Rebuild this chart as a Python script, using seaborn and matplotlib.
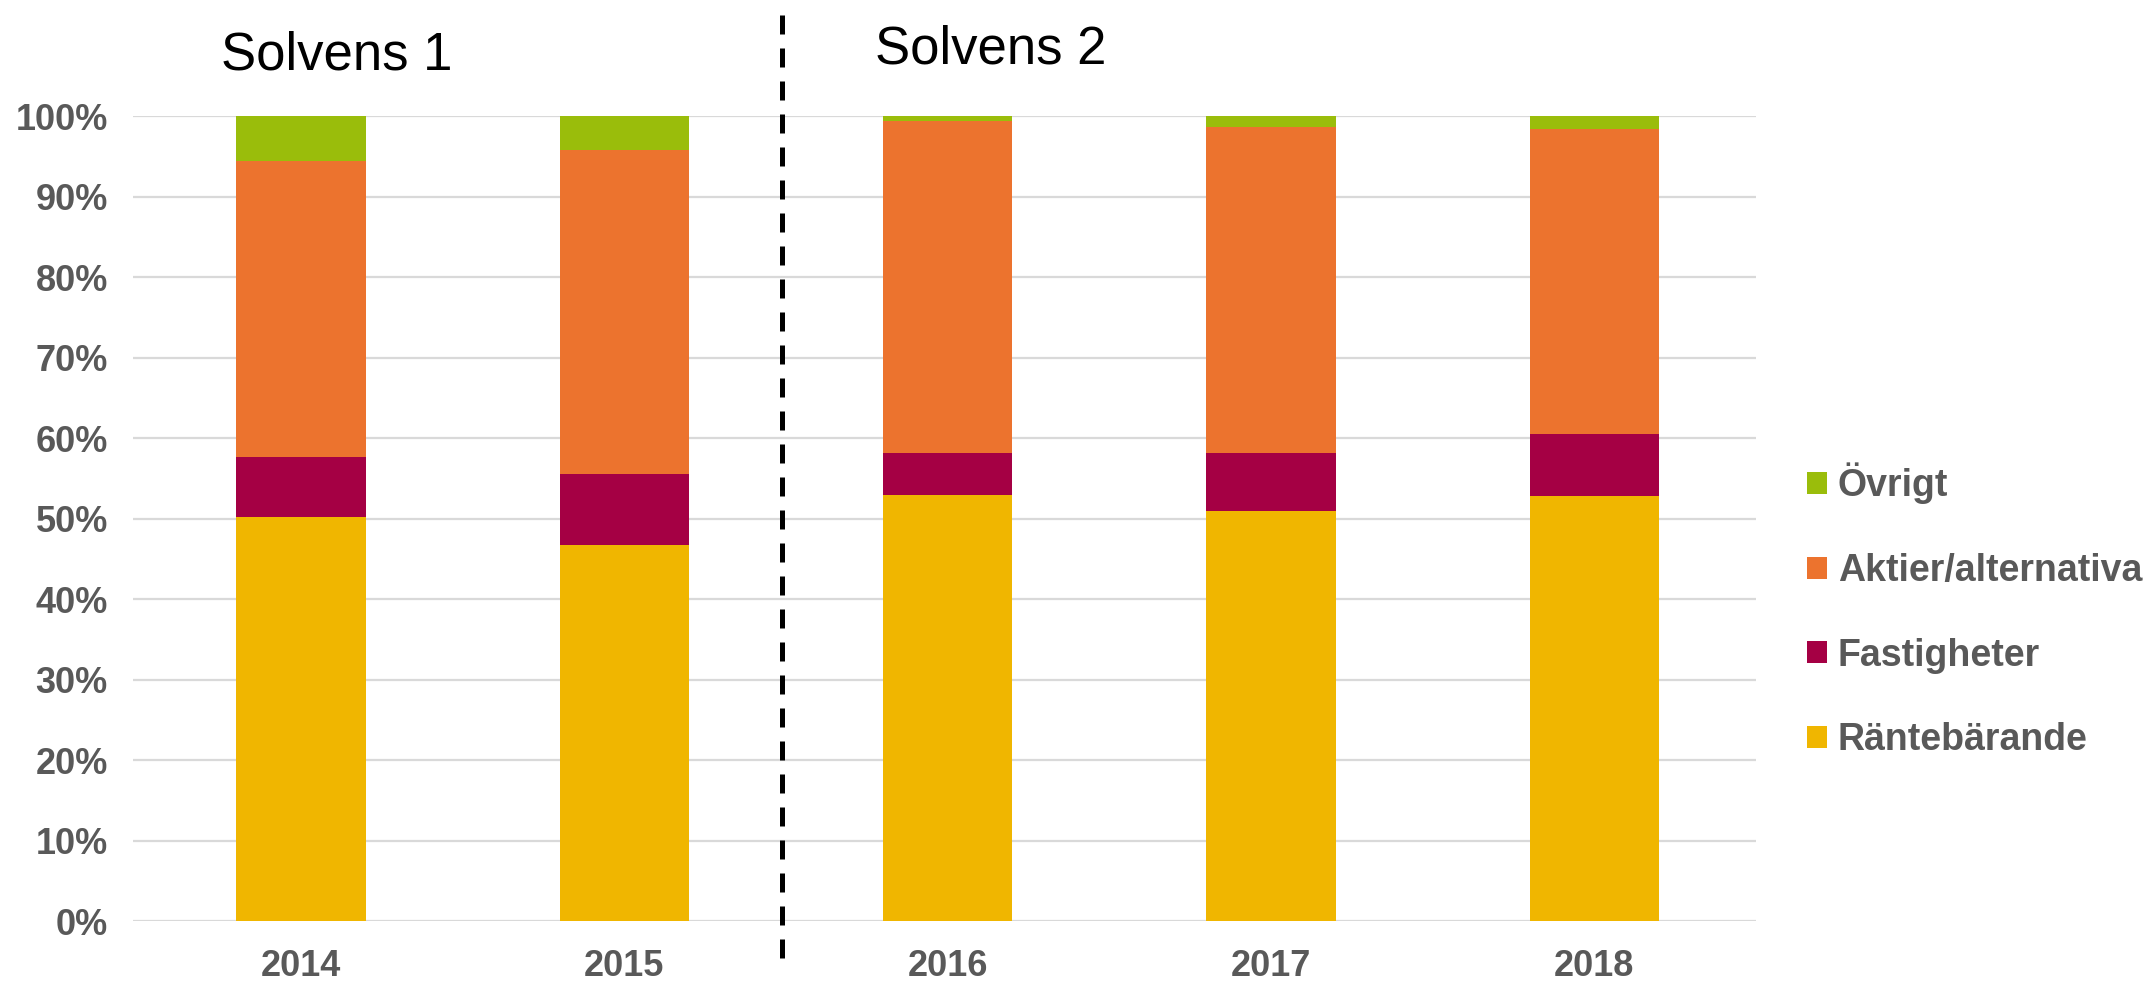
import pandas as pd
import matplotlib
matplotlib.use("Agg")
import matplotlib.pyplot as plt
import matplotlib.transforms as mtransforms
from matplotlib.patches import Patch
from matplotlib.ticker import FuncFormatter
import seaborn as sns

years = ["2014", "2015", "2016", "2017", "2018"]
rantebarande = [50.2, 46.7, 52.9, 51.0, 52.8]
fastigheter = [7.4, 8.8, 5.3, 7.1, 7.7]
aktier = [36.8, 40.3, 41.2, 40.5, 37.9]
ovrigt = [5.6, 4.2, 0.6, 1.4, 1.6]

categories = ["Övrigt", "Aktier/alternativa", "Fastigheter", "Räntebärande"]
colors = ["#9ABD0B", "#EC732E", "#A50044", "#F0B600"]
regimes = ["Solvens 1", "Solvens 2"]

df = pd.DataFrame({
    "year": years * 4,
    "kategori": ["Räntebärande"] * 5 + ["Fastigheter"] * 5 + ["Aktier/alternativa"] * 5 + ["Övrigt"] * 5,
    "andel": rantebarande + fastigheter + aktier + ovrigt,
})

sns.set_style("white")
plt.rcParams["font.family"] = ["Liberation Sans", "DejaVu Sans"]
gray = "#595959"

fig = plt.figure(figsize=(21.51, 9.84), dpi=100)
ax = fig.add_axes([0.0618, 0.064, 0.7546, 0.818])

# seaborn stacks the last hue level at the bottom
sns.histplot(data=df, x="year", weights="andel", hue="kategori", hue_order=categories,
             palette=colors, multiple="stack", discrete=True, shrink=0.4,
             alpha=1, linewidth=0, legend=False, ax=ax)

ax.set_xlim(-0.52, 4.5)
ax.set_ylim(0, 100)
ax.set_yticks(range(0, 101, 10))
ax.yaxis.set_major_formatter(FuncFormatter(lambda v, p: f"{v:.0f}%"))
ax.set_xlabel("")
ax.set_ylabel("")
ax.grid(axis="y", color="#D9D9D9", linewidth=1.6)
ax.grid(axis="x", visible=False)
ax.set_axisbelow(True)
for s in ax.spines.values():
    s.set_visible(False)
ax.tick_params(axis="both", length=0, labelsize=26, colors=gray)
ax.tick_params(axis="y", pad=18)
ax.tick_params(axis="x", pad=20)
for lab in ax.get_xticklabels() + ax.get_yticklabels():
    lab.set_fontweight("bold")

# dashed separator between the two regimes
trans = mtransforms.blended_transform_factory(ax.transData, ax.transAxes)
ax.plot([1.487, 1.487], [-0.046, 1.134], transform=trans, color="black",
        linewidth=3.6, linestyle=(0, (3.8, 2.8)), clip_on=False)

fig.text(337 / 2151, 1 - 70 / 984, regimes[0], fontsize=38, color="black", ha="center", va="baseline")
fig.text(991 / 2151, 1 - 63 / 984, regimes[1], fontsize=38, color="black", ha="center", va="baseline")

handles = [Patch(facecolor=c, edgecolor="none") for c in colors]
leg = fig.legend(handles, categories, loc="center left", bbox_to_anchor=(1807 / 2151, 0.3796),
                 frameon=False, fontsize=27, borderpad=0, borderaxespad=0,
                 handlelength=0.52, handleheight=0.52, handletextpad=0.3, labelspacing=1.3)
for t in leg.get_texts():
    t.set_color(gray)
    t.set_fontweight("bold")

fig.savefig("out.png", dpi=100)
